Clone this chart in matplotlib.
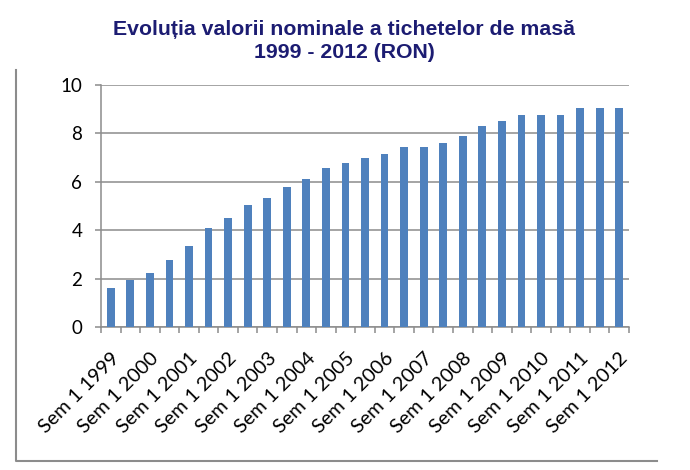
import matplotlib.pyplot as plt
import numpy as np
from matplotlib.lines import Line2D

# semester labels, Sem 1 1999 .. Sem 1 2012 (only Sem 1 is labelled)
years = list(range(1999, 2013))
semesters = []
for y in years:
    semesters.append('Sem 1 %d' % y)
    if y != 2012:
        semesters.append('Sem 2 %d' % y)

# nominal value of meal tickets (RON)
values = [1.60, 1.95, 2.22, 2.75, 3.35, 4.10, 4.50, 5.05, 5.35, 5.80,
          6.10, 6.55, 6.77, 7.00, 7.16, 7.45, 7.45, 7.60, 7.90, 8.30,
          8.50, 8.75, 8.75, 8.75, 9.05, 9.05, 9.05]

title_lines = ['Evoluția valorii nominale a tichetelor de masă',
               '1999 - 2012 (RON)']
grid_color = '#8c8c8c'


def main():
    fig = plt.figure(figsize=(6.9, 4.7), dpi=100)
    ax = fig.add_axes([0.1464, 0.3043, 0.9116 - 0.1464, 0.8191 - 0.3043])

    x = np.arange(len(values))
    ax.bar(x, values, width=0.4, color='#4f81bd', zorder=3)

    ax.set_xlim(-0.5, len(values) - 0.5)
    ax.set_ylim(0, 10)
    ax.set_yticks([0, 2, 4, 6, 8, 10])
    ax.yaxis.grid(True, color=grid_color, linewidth=1.1, zorder=0)

    # labels on every Sem 1, tick marks between the categories
    label_pos = [i for i, s in enumerate(semesters) if s.startswith('Sem 1')]
    ax.set_xticks(label_pos)
    ax.set_xticklabels([semesters[i] for i in label_pos], rotation=45,
                       ha='right', va='top', rotation_mode='anchor',
                       fontfamily='Lato', fontsize=14.3)
    ax.set_xticks(np.arange(-0.5, len(values)), minor=True)
    ax.tick_params(axis='x', which='major', length=0, pad=16.5)
    ax.tick_params(axis='x', which='minor', length=4.5, color=grid_color,
                   width=1.1)
    ax.tick_params(axis='y', length=4.5, color=grid_color, width=1.1,
                   labelsize=13.5, pad=9)
    for lab in ax.get_yticklabels():
        lab.set_fontfamily('Lato')

    for side in ['top', 'right']:
        ax.spines[side].set_visible(False)
    for side in ['left', 'bottom']:
        ax.spines[side].set_color(grid_color)
        ax.spines[side].set_linewidth(1.1)

    # two title lines, baselines at about 35 px and 58 px from the top
    for line, yb in zip(title_lines, [35, 58]):
        fig.text(344 / 690, 1 - yb / 470, line, ha='center', va='baseline',
                 fontfamily='Liberation Sans', fontweight='bold',
                 fontsize=15.3, color='#1c1c72')

    # the outer chart border (only left and bottom edges visible)
    fx0, fx1 = 16 / 690, 657 / 690
    fy0, fy1 = 1 - 461 / 470, 1 - 70 / 470
    fig.add_artist(Line2D([fx0, fx0, fx1], [fy1, fy0, fy0],
                          transform=fig.transFigure, color='#8c8c8c',
                          linewidth=1.5))

    fig.savefig('out.png', dpi=100)


if __name__ == "__main__":
    main()
